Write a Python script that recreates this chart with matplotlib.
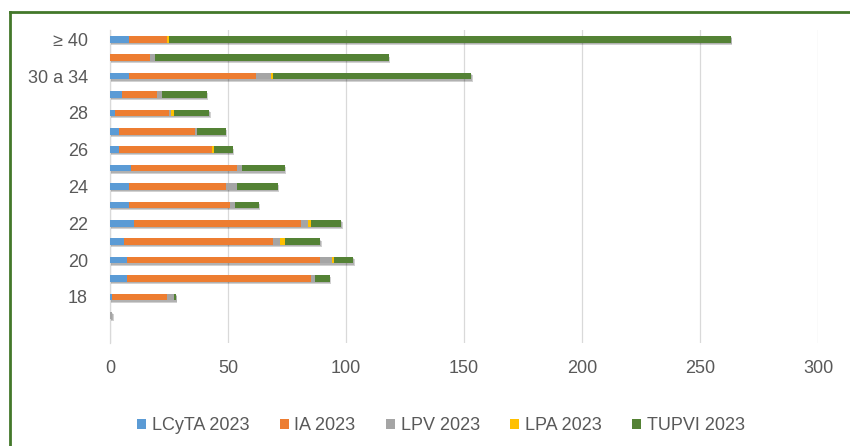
import numpy as np
import matplotlib
matplotlib.use("Agg")
import matplotlib.pyplot as plt
import matplotlib.patheffects as pe
from matplotlib.lines import Line2D
from matplotlib.patches import Patch

plt.rcParams['font.family'] = ['Liberation Sans', 'DejaVu Sans']

# age groups, bottom to top (first one is an empty slot, second one is not labelled)
cats = ["", "< 18", "18", "19", "20", "21", "22", "23", "24", "25", "26",
        "27", "28", "29", "30 a 34", "35 a 39", "≥ 40"]
lcyta = [0, 0, 1, 7, 7, 6, 10, 8, 8, 9, 4, 4, 2, 5, 8, 0, 8]
ia = [0, 0, 23, 78, 82, 63, 71, 43, 41, 45, 39, 32, 23, 15, 54, 17, 16]
lpv = [0, 1, 3, 2, 5, 3, 3, 2, 5, 2, 0, 1, 1, 2, 6, 2, 0]
lpa = [0, 0, 0, 0, 1, 2, 1, 0, 0, 0, 1, 0, 1, 0, 1, 0, 1]
tupvi = [0, 0, 1, 6, 8, 15, 13, 10, 17, 18, 8, 12, 15, 19, 84, 99, 238]

series = [("LCyTA 2023", lcyta, "#5B9BD5"),
          ("IA 2023", ia, "#ED7D31"),
          ("LPV 2023", lpv, "#A5A5A5"),
          ("LPA 2023", lpa, "#FFC000"),
          ("TUPVI 2023", tupvi, "#548235")]

W, H = 850, 446
fig = plt.figure(figsize=(W / 100, H / 100), dpi=100)
ax = fig.add_axes([110 / W, 1 - 343 / H, (818.3 - 110) / W, (343 - 30) / H])

y = np.arange(len(cats))
left = np.zeros(len(cats))
# soft drop shadow like the excel bars
shadow = [pe.SimplePatchShadow(offset=(1.0, -1.6), shadow_rgbFace="k", alpha=0.18),
          pe.SimplePatchShadow(offset=(0.5, -0.9), shadow_rgbFace="k", alpha=0.15),
          pe.Normal()]
for name, vals, col in series:
    vals = np.array(vals, dtype=float)
    bars = ax.barh(y, vals, left=left, height=0.36, color=col, zorder=3)
    for b in bars:
        b.set_path_effects(shadow)
    left += vals

ax.set_xlim(0, 300)
ax.set_ylim(-0.5, len(cats) - 0.5)
ax.set_xticks(np.arange(0, 301, 50))
ax.set_yticks(y[::2])
ax.set_yticklabels(cats[::2])
ax.tick_params(axis="both", length=0, labelsize=13, colors="#595959")
ax.tick_params(axis="x", pad=12)
ax.tick_params(axis="y", pad=16)
ax.grid(axis="x", color="#D9D9D9", linewidth=0.9, zorder=0)
for s in ["top", "right", "bottom"]:
    ax.spines[s].set_visible(False)
ax.spines["left"].set_color("#D9D9D9")
ax.spines["left"].set_linewidth(0.9)

handles = [Patch(facecolor=c, label=n) for n, v, c in series]
fig.legend(handles=handles, loc="center", bbox_to_anchor=(441 / W, 1 - 426 / H), ncol=5,
           frameon=False, fontsize=13, labelcolor="#595959",
           handlelength=0.5, handleheight=0.5, handletextpad=0.3,
           columnspacing=1.7)

# green frame of the chart (right and bottom edges are cut off)
fig.add_artist(Line2D([10 / W, 1], [1 - 12 / H, 1 - 12 / H], transform=fig.transFigure,
                      color="#43782A", linewidth=2))
fig.add_artist(Line2D([10 / W, 10 / W], [1 - 12 / H, 0], transform=fig.transFigure,
                      color="#43782A", linewidth=2))

fig.savefig("out.png", dpi=100)
